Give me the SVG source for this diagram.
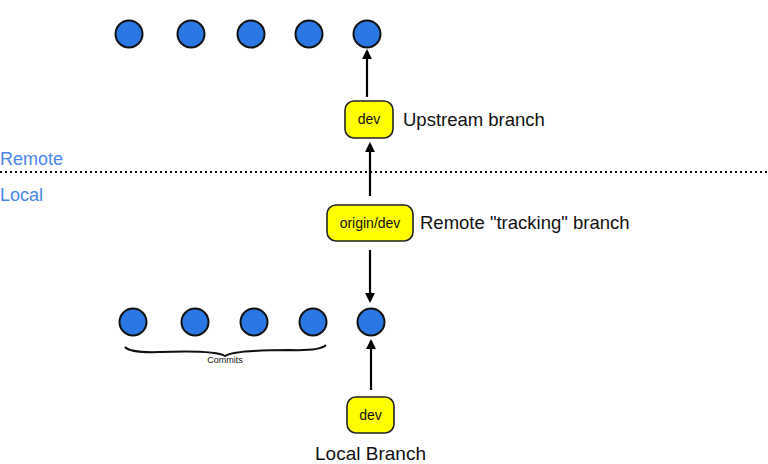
<svg xmlns="http://www.w3.org/2000/svg" width="768" height="464" viewBox="0 0 768 464">
<defs>
<style>
.c{fill:#2b78e4;stroke:#111;stroke-width:2}
.b{fill:#ffff00;stroke:#222;stroke-width:1.6}
.t{font-family:"Liberation Sans",Arial,sans-serif;fill:#111}
.lbl{font-family:"Liberation Sans",Arial,sans-serif;fill:#4a86e8;font-size:18px}
.e{stroke:#000;stroke-width:2.2;fill:none;marker-end:url(#ah)}
</style>
<marker id="ah" viewBox="0 0 10 10" refX="8" refY="5" markerWidth="4.5" markerHeight="4.5" orient="auto">
<path d="M0,0 L10,5 L0,10 z" fill="#000"/>
</marker>
</defs>
<rect width="768" height="464" fill="#fff"/>
<g id="region-labels">
<text class="lbl" x="0" y="165">Remote</text>
<text class="lbl" x="0" y="201">Local</text>
<line x1="0" y1="172" x2="768" y2="172" stroke="#111" stroke-width="2" stroke-dasharray="2,3"/>
</g>
<g id="remote-commits">
<circle class="c" cx="129" cy="34" r="13.5"/>
<circle class="c" cx="191" cy="34" r="13.5"/>
<circle class="c" cx="251" cy="34" r="13.5"/>
<circle class="c" cx="309" cy="34" r="13.5"/>
<circle class="c" cx="367" cy="34" r="13.5"/>
</g>
<g id="local-commits">
<circle class="c" cx="133" cy="322" r="13.5"/>
<circle class="c" cx="195" cy="322" r="13.5"/>
<circle class="c" cx="254" cy="322" r="13.5"/>
<circle class="c" cx="313" cy="322" r="13.5"/>
<circle class="c" cx="371" cy="322" r="13.5"/>
</g>
<g id="upstream-dev">
<rect class="b" x="345" y="101" width="48" height="37" rx="9"/>
<text class="t" x="369" y="124" font-size="14" text-anchor="middle">dev</text>
<text class="t" x="403" y="126" font-size="18.5">Upstream branch</text>
</g>
<g id="origin-dev">
<rect class="b" x="327" y="205" width="86" height="36" rx="9"/>
<text class="t" x="370" y="228" font-size="14" text-anchor="middle">origin/dev</text>
<text class="t" x="420" y="229" font-size="18.5">Remote "tracking" branch</text>
</g>
<g id="local-dev">
<rect class="b" x="347" y="397" width="47" height="36" rx="9"/>
<text class="t" x="370.5" y="420" font-size="14" text-anchor="middle">dev</text>
<text class="t" x="370.5" y="460" font-size="19" text-anchor="middle">Local Branch</text>
</g>
<g id="commits-brace">
<path d="M125,347 Q130,353 160,352 Q215,350 225,356 Q235,350 290,350 Q320,351 326,345" fill="none" stroke="#111" stroke-width="2"/>
<text class="t" x="225" y="363" font-size="9" text-anchor="middle" fill="#333">Commits</text>
</g>
<g id="connectors">
<line class="e" x1="367" y1="97" x2="367" y2="51"/>
<line class="e" x1="370" y1="196" x2="370" y2="144"/>
<line class="e" x1="370" y1="250" x2="370" y2="301"/>
<line class="e" x1="371" y1="390" x2="371" y2="341"/>
</g>
</svg>
